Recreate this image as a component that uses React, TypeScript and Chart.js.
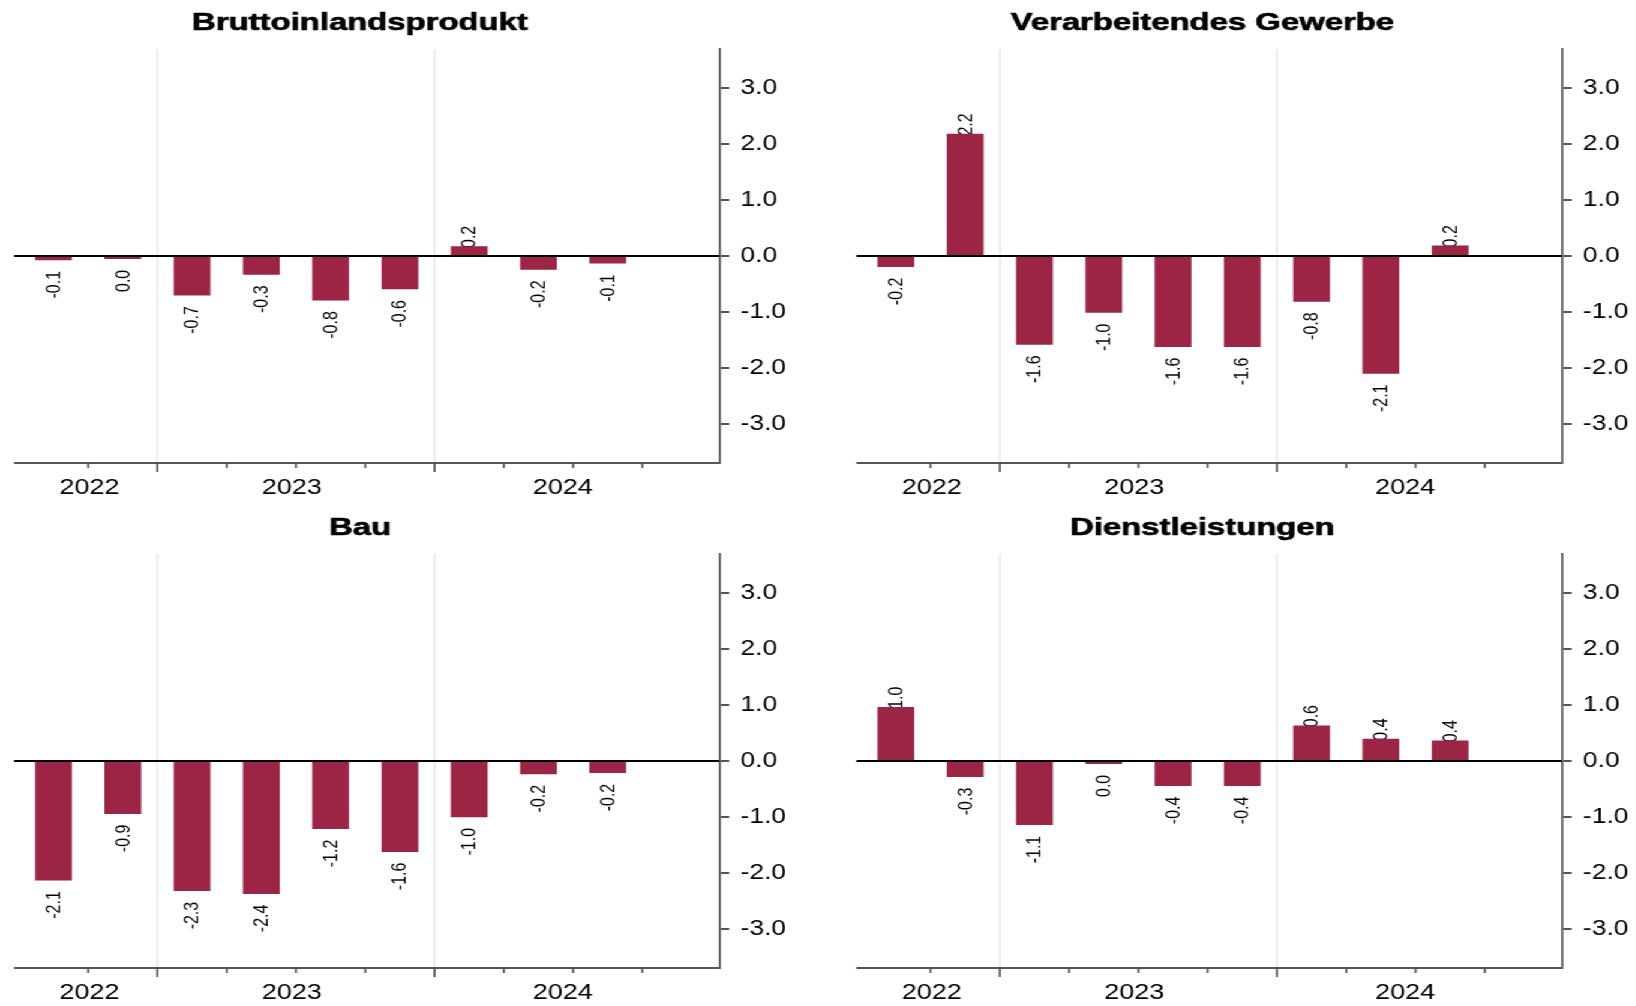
import React, { useEffect, useRef } from 'react';
import { Chart, registerables } from 'chart.js';

Chart.register(...registerables);

// ---------- data ----------
const QUARTERS = ['2022 Q3', '2022 Q4', '2023 Q1', '2023 Q2', '2023 Q3', '2023 Q4', '2024 Q1', '2024 Q2', '2024 Q3'];
const YEAR_LABELS = ['2022', '2023', '2024'];
const Y_TICKS = [-3, -2, -1, 0, 1, 2, 3];

const TITLES = ['Bruttoinlandsprodukt', 'Verarbeitendes Gewerbe', 'Bau', 'Dienstleistungen'];
const bipValues = [-0.07, -0.049, -0.7, -0.33, -0.79, -0.59, 0.17, -0.24, -0.13];
const vgValues = [-0.19, 2.18, -1.58, -1.01, -1.62, -1.62, -0.81, -2.1, 0.18];
const bauValues = [-2.13, -0.94, -2.32, -2.37, -1.21, -1.62, -1.0, -0.23, -0.21];
const dlValues = [0.96, -0.28, -1.14, -0.049, -0.44, -0.44, 0.63, 0.39, 0.36];

// ---------- layout / style ----------
const S = 1.2; // horizontal stretch of the whole picture
const PAGE_W = 1636 / S;
const CANVAS_W = 660;
const AREA_LEFT = 14 / S;
const AREA_RIGHT = 719.3 / S;
const AREA_TOP = 49;
const AREA_BOTTOM = 463;
const X_MIN = -0.57;
const X_MAX = 9.61;
const YEAR_LABEL_POS = [0.52, 3.44, 7.35];
const BAR_COLOR = '#9c2444';
const AXIS_COLOR = '#555555';
const TEXT_COLOR = '#000000';

function fmt(v: number): string {
  const s = v.toFixed(1);
  return s === '-0.0' ? '0.0' : s;
}

function yearOf(q: string) {
  return q.slice(0, 4);
}

function makeDecor(title: string, values: number[]) {
  const bounds: { pos: number; major: boolean }[] = [];
  for (let i = 0; i < QUARTERS.length; i++) {
    const major = i + 1 < QUARTERS.length && yearOf(QUARTERS[i]) !== yearOf(QUARTERS[i + 1]);
    bounds.push({ pos: i + 0.5, major });
  }
  return {
    id: 'panelDecor',
    beforeDatasetsDraw(chart: any) {
      const { ctx, chartArea: a, scales } = chart;
      const x = scales.x;
      ctx.save();
      ctx.strokeStyle = '#e2e2e2';
      ctx.lineWidth = 1.25;
      bounds.filter(b => b.major).forEach(b => {
        const px = x.getPixelForValue(b.pos);
        ctx.beginPath();
        ctx.moveTo(px, a.top);
        ctx.lineTo(px, a.bottom);
        ctx.stroke();
      });
      const meta = chart.getDatasetMeta(0);
      ctx.fillStyle = TEXT_COLOR;
      ctx.font = '16px "Liberation Sans", Arial, sans-serif';
      ctx.textBaseline = 'middle';
      meta.data.forEach((el: any, i: number) => {
        const v = values[i];
        ctx.save();
        if (v >= 0) {
          ctx.translate(el.x + 0.8, el.y + 1.5);
          ctx.rotate(-Math.PI / 2);
          ctx.textAlign = 'left';
        } else {
          ctx.translate(el.x + 0.8, el.y + 11);
          ctx.rotate(-Math.PI / 2);
          ctx.textAlign = 'right';
        }
        ctx.fillText(fmt(v), 0, 0);
        ctx.restore();
      });
      ctx.restore();
    },
    afterDatasetsDraw(chart: any) {
      const { ctx, chartArea: a, scales } = chart;
      const y0 = scales.y.getPixelForValue(0);
      ctx.save();
      ctx.strokeStyle = '#000';
      ctx.lineWidth = 2;
      ctx.beginPath();
      ctx.moveTo(a.left, y0);
      ctx.lineTo(a.right, y0);
      ctx.stroke();
      ctx.restore();
    },
    afterDraw(chart: any) {
      const { ctx, chartArea: a, scales } = chart;
      const x = scales.x;
      ctx.save();
      ctx.strokeStyle = AXIS_COLOR;
      ctx.lineWidth = 2;
      ctx.beginPath();
      ctx.moveTo(a.left, a.bottom);
      ctx.lineTo(a.right, a.bottom);
      ctx.stroke();
      ctx.lineWidth = 1.7;
      bounds.forEach(b => {
        const px = x.getPixelForValue(b.pos);
        ctx.beginPath();
        ctx.moveTo(px, a.bottom);
        ctx.lineTo(px, a.bottom + (b.major ? 9 : 5));
        ctx.stroke();
      });
      ctx.fillStyle = TEXT_COLOR;
      ctx.font = '22.5px "Liberation Sans", Arial, sans-serif';
      ctx.textAlign = 'center';
      ctx.textBaseline = 'alphabetic';
      YEAR_LABELS.forEach((lab, i) => {
        ctx.fillText(lab, x.getPixelForValue(YEAR_LABEL_POS[i]), a.bottom + 31);
      });
      // title (a wider, heavier bold face)
      ctx.fillStyle = '#000';
      ctx.strokeStyle = '#000';
      ctx.lineWidth = 0.6;
      ctx.lineJoin = 'round';
      ctx.font = 'bold 23px "Liberation Sans", Arial, sans-serif';
      ctx.textAlign = 'center';
      ctx.translate(300, 29.5);
      ctx.scale(1.19, 1);
      ctx.fillText(title, 0, 0);
      ctx.strokeText(title, 0, 0);
      ctx.restore();
    },
  };
}

function Panel({ title, values, left, top, height }: { title: string; values: number[]; left: number; top: number; height: number }) {
  const ref = useRef<HTMLCanvasElement>(null);
  useEffect(() => {
    const canvas = ref.current!;
    const chart = new Chart(canvas, {
      type: 'bar',
      data: {
        labels: QUARTERS,
        datasets: [
          {
            data: values.map((v, i) => ({ x: i, y: v })) as any,
            backgroundColor: BAR_COLOR,
            borderWidth: 0,
            barThickness: 30,
          },
        ],
      },
      options: {
        responsive: false,
        animation: false,
        devicePixelRatio: 1,
        layout: { padding: { left: AREA_LEFT, right: 0, top: AREA_TOP, bottom: height - AREA_BOTTOM } },
        plugins: { legend: { display: false }, tooltip: { enabled: false }, title: { display: false } },
        scales: {
          x: { type: 'linear', min: X_MIN, max: X_MAX, offset: false, display: false, grid: { offset: false } },
          y: {
            position: 'right',
            min: -3.7,
            max: 3.7,
            afterBuildTicks: (s: any) => {
              s.ticks = Y_TICKS.map(v => ({ value: v }));
            },
            afterFit: (s: any) => {
              s.width = CANVAS_W - AREA_RIGHT;
            },
            grid: { drawOnChartArea: false, drawTicks: true, tickLength: 8.3, tickColor: AXIS_COLOR, tickWidth: 2, lineWidth: 2 },
            border: { display: true, color: AXIS_COLOR, width: 1.7 },
            ticks: {
              color: TEXT_COLOR,
              padding: 9.4,
              font: { family: '"Liberation Sans", Arial, sans-serif', size: 22 },
              callback: (v: any) => Number(v).toFixed(1),
            },
          },
        } as any,
      },
      plugins: [makeDecor(title, values)],
    });
    return () => chart.destroy();
  }, []);
  return (
    <canvas
      ref={ref}
      width={CANVAS_W}
      height={height}
      style={{ position: 'absolute', left, top, width: CANVAS_W, height }}
    />
  );
}

export default function App() {
  const rightLeft = 842 / S;
  return (
    <div
      style={{
        position: 'absolute',
        left: 0,
        top: 0,
        width: PAGE_W,
        height: 1006,
        transform: `scaleX(${S})`,
        transformOrigin: '0 0',
        background: '#fff',
        overflow: 'hidden',
      }}
    >
      <Panel title={TITLES[0]} values={bipValues} left={0} top={0} height={505} />
      <Panel title={TITLES[1]} values={vgValues} left={rightLeft} top={0} height={505} />
      <Panel title={TITLES[2]} values={bauValues} left={0} top={505} height={501} />
      <Panel title={TITLES[3]} values={dlValues} left={rightLeft} top={505} height={501} />
    </div>
  );
}
